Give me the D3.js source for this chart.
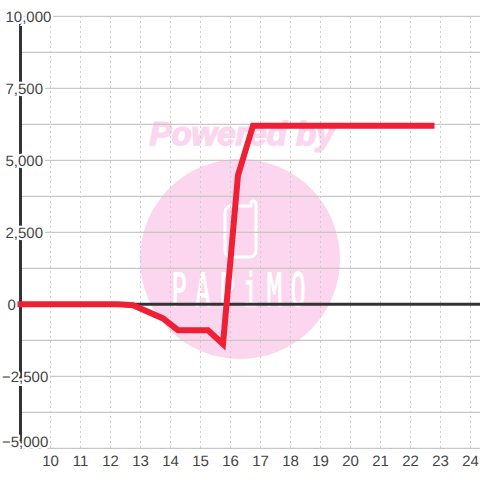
<!DOCTYPE html>
<html><head><meta charset="utf-8">
<script src="https://cdn.jsdelivr.net/npm/d3@7"></script>
<style>html,body{margin:0;padding:0;background:#fff}svg{display:block}text{text-rendering:geometricPrecision}</style>
</head><body><svg id="c" width="480" height="480"></svg>
<script>
const hours=[8.9,12.25,12.75,13.75,14.25,15.25,15.75,16.25,16.75,22.8];
const values=[0,0,-30,-490,-900,-900,-1380,4480,6200,6200];
const xTicks=[10,11,12,13,14,15,16,17,18,19,20,21,22,23,24];
const yMajor=[10000,7500,5000,2500,0,-2500,-5000];
const yMinor=[8750,6250,3750,1250,-1250,-3750];
const watermarkTop="Powered by";
const watermarkBrand="PAPiMO";

const x=d3.scaleLinear().domain([9,24]).range([20.5,470.5]);
const y=d3.scaleLinear().domain([-5000,10000]).range([448.3,16.3]);
const svg=d3.select("#c");
const font="'Liberation Sans',Arial,sans-serif";
const pink="#fbd6ee";

// watermark
svg.append("circle").attr("cx",240).attr("cy",259).attr("r",100).attr("fill",pink);
svg.append("text").attr("x",242).attr("y",145).attr("text-anchor","middle")
  .attr("font-family",font).attr("font-size",33).attr("font-weight","bold").attr("font-style","italic")
  .attr("fill",pink).attr("stroke",pink).attr("stroke-width",1.5).text(watermarkTop);
svg.append("path").attr("d","M251 206 L232 206 Q225 206 225 213 L225 250 Q225 257 232 257 L249 257 Q256 257 256 250 L256 204 Q256 201 253 201 Q251 201 251 204 Z")
  .attr("fill","none").attr("stroke","#fff").attr("stroke-width",3).attr("stroke-linejoin","round");
svg.append("text").attr("transform","translate(243,306) scale(.55,1)").attr("text-anchor","middle")
  .attr("font-family","'DejaVu Sans Mono',monospace").attr("font-size",46).attr("letter-spacing",15.6)
  .attr("fill","#fff").attr("stroke","#fff").attr("stroke-width",1).text(watermarkBrand);

// grid
svg.append("g").selectAll("line").data(xTicks).join("line")
  .attr("x1",d=>x(d)).attr("x2",d=>x(d)).attr("y1",16).attr("y2",448)
  .attr("stroke","#cccccc").attr("stroke-width",1).attr("stroke-dasharray","2,3");
svg.append("g").selectAll("line").data(yMajor.concat(yMinor).filter(d=>d!==0)).join("line")
  .attr("x1",20).attr("x2",480).attr("y1",d=>y(d)).attr("y2",d=>y(d))
  .attr("stroke","#c8c8c8").attr("stroke-width",1.2);

// axis lines
svg.append("line").attr("x1",x(9)).attr("x2",x(9)).attr("y1",16).attr("y2",448)
  .attr("stroke","#333").attr("stroke-width",3);
svg.append("line").attr("x1",20).attr("x2",480).attr("y1",y(0)).attr("y2",y(0))
  .attr("stroke","#333").attr("stroke-width",3);

// labels
const labelX=d=>d<0?2:(d===0?7.5:5.5);
const labelY=d=>d===-5000?447:y(d)+5.5;
svg.append("g").selectAll("text").data(yMajor).join("text")
  .attr("x",labelX).attr("y",labelY).attr("text-anchor","start")
  .attr("font-family",font).attr("font-size",15).attr("fill","#444")
  .attr("stroke","#fff").attr("stroke-width",4).attr("paint-order","stroke")
  .text(d3.format(","));
svg.append("g").selectAll("text").data(xTicks).join("text")
  .attr("x",d=>x(d)).attr("y",466).attr("text-anchor","middle")
  .attr("font-family",font).attr("font-size",15).attr("fill","#444").text(d=>d);

// series
const line=d3.line().x((d,i)=>x(hours[i])).y(d=>y(d));
svg.append("path").attr("d",line(values)).attr("fill","none")
  .attr("stroke","#ef1f34").attr("stroke-width",6).attr("stroke-linejoin","miter");
</script></body></html>
